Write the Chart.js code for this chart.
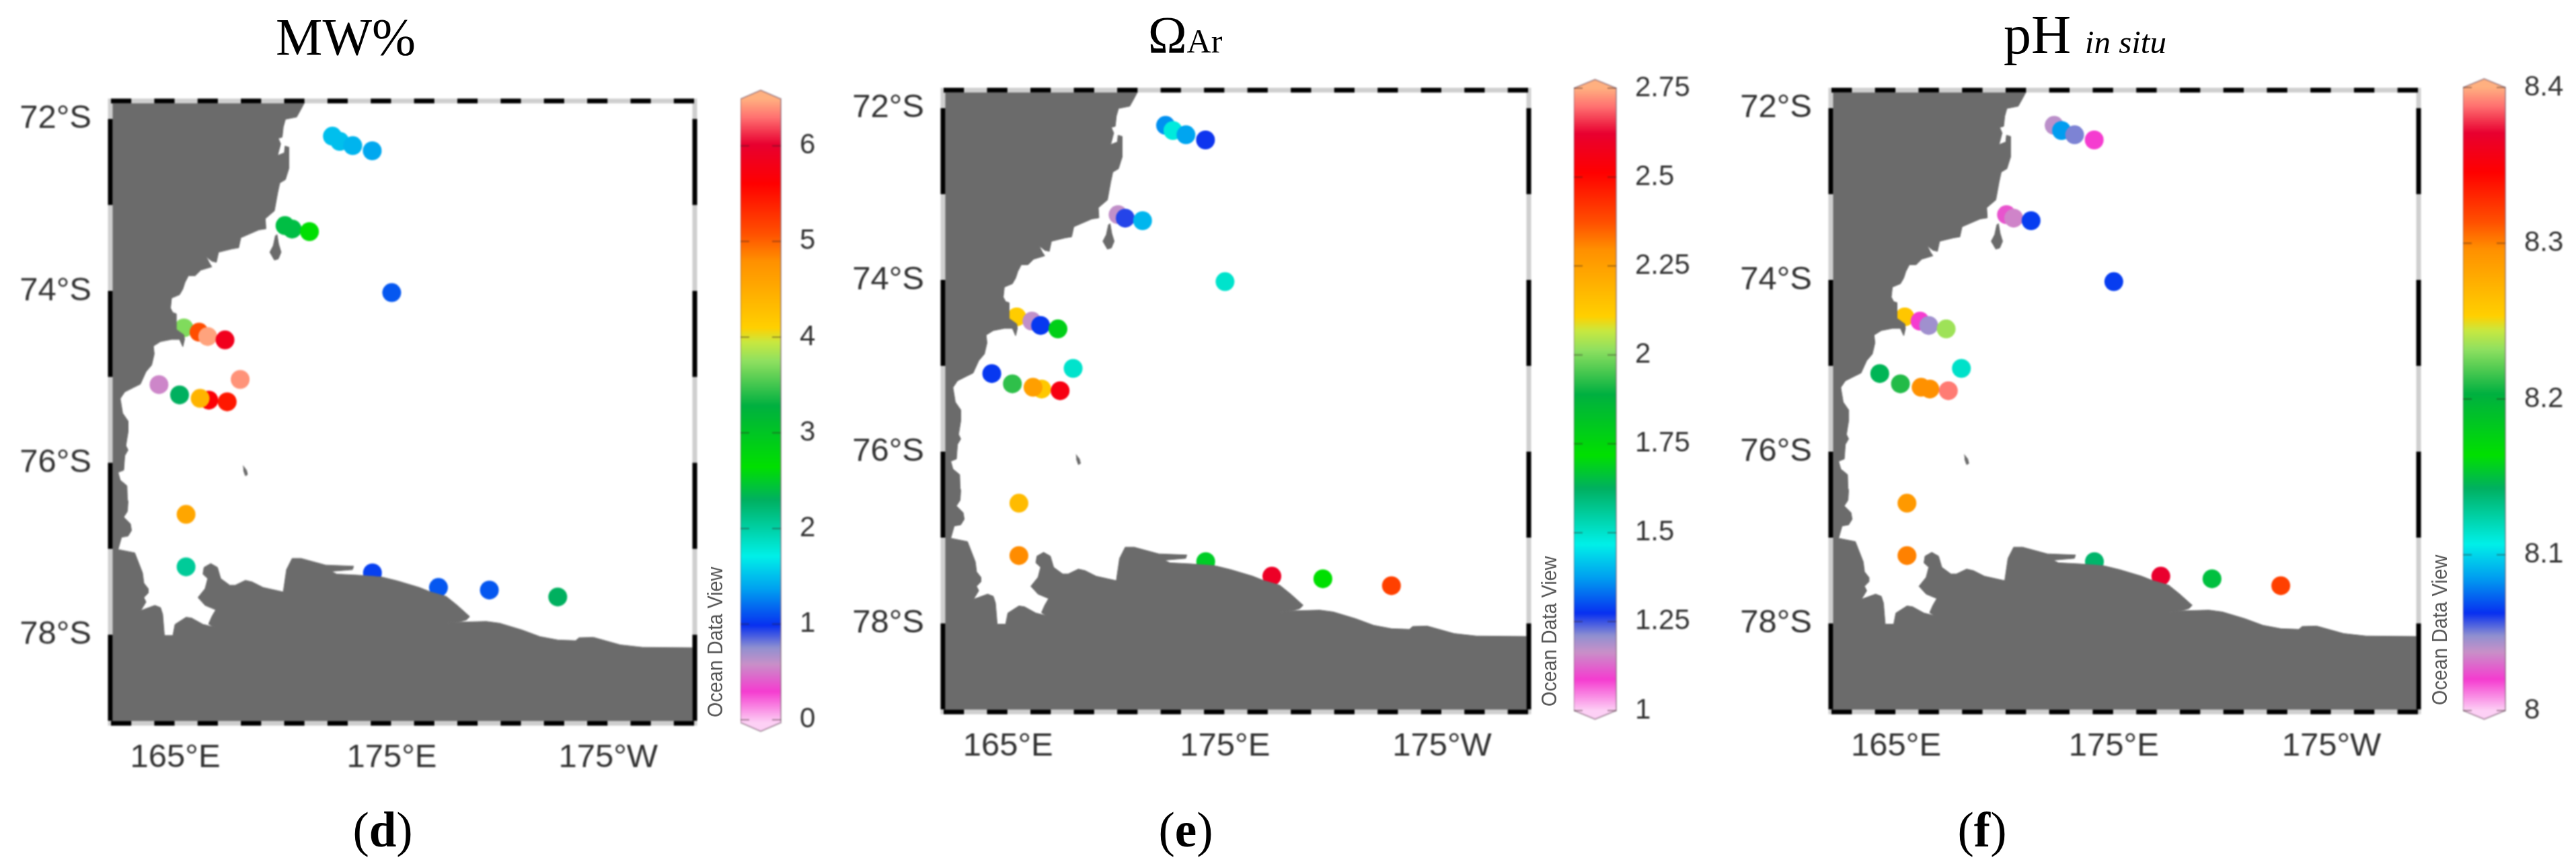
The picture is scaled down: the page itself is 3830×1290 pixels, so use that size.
<!DOCTYPE html>
<html>
<head>
<meta charset="utf-8">
<title>MW%, Omega Ar, pH in situ</title>
<script src="https://cdn.jsdelivr.net/npm/chart.js@4/dist/chart.umd.min.js"></script>
<style>
    html, body { margin: 0; padding: 0; background: #fff; width: 3830px; height: 1290px; overflow: hidden; }
    canvas { position: absolute; filter: blur(1px); }
    .serif { position: absolute; font-family: "Liberation Serif", serif; color: #000; line-height: 1; white-space: nowrap; transform: translateX(-50%); }
    .odv { position: absolute; font-family: "Liberation Sans", sans-serif; font-size: 32px; color: #555; line-height: 1; white-space: nowrap; transform-origin: left bottom; transform: rotate(-90deg) scaleX(0.9); filter: blur(0.6px); }
</style>
</head>
<body>
<script>
// stations, same cruise track on all three maps (degrees, lon past 180 = west)
const stationLon = [172.26, 172.6, 173.2, 174.1, 170.07, 170.4, 171.2, 175.0, 165.4, 166.1, 166.5, 167.3, 168.0, 164.25, 165.2, 166.55, 166.15, 167.4, 165.5, 165.5, 174.11, 177.16, 179.51, 182.67];
const stationLat = [72.2, 72.26, 72.31, 72.37, 73.24, 73.28, 73.31, 74.02, 74.43, 74.48, 74.53, 74.57, 75.03, 75.09, 75.21, 75.27, 75.25, 75.29, 76.6, 77.21, 77.28, 77.45, 77.48, 77.56];

// values
const mwValues = [1.5, 1.5, 1.45, 1.4, 2.4, 2.4, 2.66, 1.12, 3.7, 5.1, 6.45, 5.85, 6.4, 0.55, 2.3, 5.65, 4.4, 5.45, 4.55, 2.05, 1.04, 1.12, 1.12, 2.3];
const omegaValues = [1.36, 1.48, 1.38, 1.27, 1.17, 1.26, 1.4, 1.5, 2.12, 1.17, 1.28, 1.78, 1.5, 1.28, 1.93, 2.13, 2.25, 2.55, 2.17, 2.3, 1.68, 2.6, 1.72, 2.4];
const phValues = [8.04, 8.085, 8.05, 8.02, 8.025, 8.035, 8.065, 8.065, 8.26, 8.02, 8.045, 8.235, 8.115, 8.145, 8.21, 8.295, 8.295, 8.39, 8.29, 8.3, 8.14, 8.37, 8.15, 8.32];

const mwTicks = [0, 1, 2, 3, 4, 5, 6];
const omegaTicks = [1, 1.25, 1.5, 1.75, 2, 2.25, 2.5, 2.75];
const phTicks = [8, 8.1, 8.2, 8.3, 8.4];

const lonTicks = [165, 175, 185];
const lonTickLabels = ['165°E', '175°E', '175°W'];
const latTicks = [72, 74, 76, 78];
const latTickLabels = ['72°S', '74°S', '76°S', '78°S'];

// Victoria Land and the Ross Ice Shelf, traced clockwise from the top of the map
const landLon = [162, 170.97, 170.81, 170.61, 170.09, 169.99, 169.94, 169.76, 169.87, 169.73, 170.04, 170.07, 170.25, 170.25, 170.09, 169.83, 169.73, 169.58, 169.16, 169.19, 168.86, 168.03, 167.93, 167.62, 167.0, 166.9, 166.69, 166.43, 166.59, 166.69, 166.18, 165.92, 165.61, 165.45, 165.35, 165.2, 164.83, 164.78, 164.89, 165.04, 165.04, 165.4, 165.43, 165.35, 165.2, 164.83, 164.32, 163.99, 164.03, 163.91,
    163.65, 163.39, 163.08, 162.67, 162.46, 162.57, 162.82, 162.82, 162.72, 162.82, 162.67, 162.62, 162.36, 162.46, 162.77, 162.79, 162.82, 162.79, 162.62, 162.93, 162.98, 162.82, 162.52, 162.36, 163.13, 163.49, 163.55, 163.75, 163.75, 163.55, 163.65,
    163.41, 164.06, 164.32, 164.42, 164.5, 164.89, 164.99, 165.5, 165.76, 166.28, 166.77, 166.54, 166.69, 166.87, 166.38, 166.05, 166.38, 166.5, 166.28, 166.33, 166.64, 166.95, 167.1, 167.52, 167.77, 168.24, 168.55, 169.06, 169.99, 170.14, 170.4, 170.81, 171.95, 173.24, 173.19, 172.21, 172.46, 173.44, 174.53,
    175.25, 176.28, 176.8, 177.52, 178.03, 178.6, 178.45, 178.14, 177.47, 178.24, 179.37, 179.99, 181.02, 181.85, 182.67, 183.5, 183.65, 184.32, 184.94, 185.56, 186.59, 189, 189, 162, 162];
const landLat = [71.79, 71.81, 71.886, 71.977, 72.003, 72.094, 72.211, 72.224, 72.289, 72.424, 72.393, 72.315, 72.328, 72.575, 72.705, 72.744, 72.861, 73.069, 73.16, 73.277, 73.29, 73.381, 73.498, 73.511, 73.55, 73.667, 73.654, 73.602, 73.68, 73.719, 73.758, 73.823, 73.823, 73.901, 73.979, 74.044, 74.083, 74.2, 74.252, 74.265, 74.447, 74.512, 74.564, 74.65, 74.564, 74.564, 74.59, 74.642, 74.733, 74.863,
    74.94, 75.084, 75.123, 75.175, 75.253, 75.422, 75.513, 75.643, 75.799, 75.851, 75.916, 76.085, 76.111, 76.202, 76.267, 76.423, 76.449, 76.566, 76.631, 76.709, 76.787, 76.852, 76.865, 77.008, 77.047, 77.281, 77.398, 77.463, 77.515, 77.567, 77.619,
    77.718, 77.658, 77.684, 77.762, 78.009, 78.009, 77.879, 77.796, 77.806, 77.879, 77.91, 77.874, 77.788, 77.71, 77.658, 77.567, 77.463, 77.346, 77.294, 77.216, 77.172, 77.216, 77.346, 77.424, 77.424, 77.367, 77.385, 77.45, 77.502, 77.242, 77.112, 77.112, 77.19, 77.203, 77.242, 77.263, 77.294, 77.307, 77.328,
    77.372, 77.45, 77.502, 77.554, 77.658, 77.788, 77.827, 77.848, 77.866, 77.853, 77.845, 77.866, 77.944, 78.022, 78.061, 78.069, 78.035, 78.03, 78.074, 78.118, 78.147, 78.152, 79.03, 79.03, 71.79];

const coulmanLon = [169.7, 169.78, 169.89, 169.76, 169.58, 169.37, 169.53, 169.63];
const coulmanLat = [73.342, 73.459, 73.55, 73.628, 73.641, 73.55, 73.472, 73.355];
const beaufortLon = [168.13, 168.29, 168.34, 168.24, 168.15];
const beaufortLat = [76.033, 76.085, 76.137, 76.15, 76.085];

// ODV colour bar, position 0 = bottom shoulder, 1 = top shoulder
const barStopPos = [0, 0.05, 0.094, 0.12, 0.156, 0.214, 0.267, 0.357, 0.41, 0.508, 0.58, 0.61, 0.633, 0.74, 0.784, 0.864, 0.927, 0.97, 1];
const barStopColor = ['#fdd0f5', '#f53cd0', '#c890c8', '#9090d0', '#0830f0', '#00a0f0', '#00f0e8', '#00b060', '#00e000', '#00b040', '#90e060', '#c8e840', '#ffd000', '#ff9000', '#ff5000', '#ff0000', '#e80030', '#ff7070', '#ffb080'];

const LAND_COLOR = '#6b6b6b';
const LON_MIN = 162, LON_MAX = 189, LAT_MIN = 71.79, LAT_MAX = 79.03;

function hexToRgb(h) {
    return [parseInt(h.substr(1, 2), 16), parseInt(h.substr(3, 2), 16), parseInt(h.substr(5, 2), 16)];
}

function colorAt(f) {
    f = Math.max(0, Math.min(1, f));
    let i = 0;
    while (i < barStopPos.length - 2 && f > barStopPos[i + 1]) i++;
    const t = (f - barStopPos[i]) / (barStopPos[i + 1] - barStopPos[i]);
    const a = hexToRgb(barStopColor[i]), b = hexToRgb(barStopColor[i + 1]);
    return `rgb(${a.map((v, k) => Math.round(v + (b[k] - v) * t)).join(',')})`;
}

function toPoints(xs, ys) {
    return xs.map((x, i) => ({ x: x, y: ys[i] }));
}

function landDataset(xs, ys) {
    return {
        type: 'scatter', showLine: true, fill: 'shape', order: 0,
        data: toPoints(xs, ys),
        backgroundColor: LAND_COLOR, borderColor: LAND_COLOR, borderWidth: 1, pointRadius: 0, tension: 0
    };
}

// keep the plot box exactly where it is asked for, labels may hang over
function fixAxisSize(s, size) {
    if (s.isHorizontal()) s.height = size; else s.width = size;
    s.paddingTop = s.paddingBottom = s.paddingLeft = s.paddingRight = 0;
}

// black and grey map frame, one degree per dash
const framePlugin = {
    id: 'mapFrame',
    afterDatasetsDraw(chart) {
        const { ctx, scales: { x, y } } = chart;
        const a = chart.chartArea;
        ctx.save();
        ctx.lineWidth = 7;
        ctx.strokeStyle = '#cfcfcf';
        ctx.strokeRect(a.left, a.top, a.right - a.left, a.bottom - a.top);
        ctx.strokeStyle = '#000';
        ctx.beginPath();
        for (let lon = LON_MIN; lon < LON_MAX; lon += 2) {
            const x0 = x.getPixelForValue(lon) + 1, x1 = x.getPixelForValue(lon + 1) - 1;
            ctx.moveTo(x0, a.top); ctx.lineTo(x1, a.top);
            ctx.moveTo(x0, a.bottom); ctx.lineTo(x1, a.bottom);
        }
        for (let lat = 72; lat < 79; lat += 2) {
            const y0 = y.getPixelForValue(lat), y1 = Math.min(y.getPixelForValue(lat + 1), a.bottom + 3.5);
            ctx.moveTo(a.left, y0); ctx.lineTo(a.left, y1);
            ctx.moveTo(a.right, y0); ctx.lineTo(a.right, y1);
        }
        ctx.stroke();
        ctx.restore();
    }
};

// pointed ends, outline and tick nicks of the colour bar
const barPlugin = {
    id: 'barCaps',
    afterDatasetsDraw(chart, args, opts) {
        const { ctx } = chart;
        const a = chart.chartArea;
        const mid = (a.left + a.right) / 2;
        ctx.save();
        ctx.fillStyle = colorAt(1);
        ctx.beginPath();
        ctx.moveTo(a.left, a.top); ctx.lineTo(mid, a.top - opts.tip); ctx.lineTo(a.right, a.top); ctx.closePath();
        ctx.fill();
        ctx.fillStyle = colorAt(0);
        ctx.beginPath();
        ctx.moveTo(a.left, a.bottom); ctx.lineTo(mid, a.bottom + opts.tip); ctx.lineTo(a.right, a.bottom); ctx.closePath();
        ctx.fill();
        ctx.strokeStyle = 'rgba(120,90,110,0.55)';
        ctx.lineWidth = 2;
        ctx.beginPath();
        ctx.moveTo(a.left, a.bottom); ctx.lineTo(a.left, a.top); ctx.lineTo(mid, a.top - opts.tip); ctx.lineTo(a.right, a.top);
        ctx.lineTo(a.right, a.bottom); ctx.lineTo(mid, a.bottom + opts.tip); ctx.closePath();
        ctx.stroke();
        ctx.strokeStyle = 'rgba(50,30,30,0.4)';
        ctx.beginPath();
        chart.scales.y.ticks.forEach(t => {
            const py = chart.scales.y.getPixelForValue(t.value);
            ctx.moveTo(a.left, py); ctx.lineTo(a.left + 13, py);
            ctx.moveTo(a.right - 13, py); ctx.lineTo(a.right, py);
        });
        ctx.stroke();
        ctx.restore();
    }
};

function addCanvas(left, top, width, height) {
    const c = document.createElement('canvas');
    c.width = width; c.height = height;
    c.style.left = left + 'px'; c.style.top = top + 'px';
    c.style.width = width + 'px'; c.style.height = height + 'px';
    document.body.appendChild(c);
    return c;
}

function drawMap(box, values, lo, hi) {
    const AXIS_Y = 160, AXIS_X = 100, PAD = 10;
    const w = box.right - box.left, h = box.bottom - box.top;
    const canvas = addCanvas(box.left - AXIS_Y, box.top - PAD, w + AXIS_Y + PAD, h + AXIS_X + PAD);
    new Chart(canvas, {
        type: 'scatter',
        data: {
            datasets: [
                landDataset(landLon, landLat),
                landDataset(coulmanLon, coulmanLat),
                landDataset(beaufortLon, beaufortLat),
                {
                    order: 1,
                    data: toPoints(stationLon, stationLat),
                    backgroundColor: values.map(v => colorAt((v - lo) / (hi - lo))),
                    borderWidth: 0, pointRadius: 14, pointHoverRadius: 14
                }
            ]
        },
        options: {
            responsive: false, animation: false, devicePixelRatio: 1,
            layout: { padding: { top: PAD, right: PAD, left: 0, bottom: 0 } },
            plugins: { legend: { display: false }, tooltip: { enabled: false } },
            scales: {
                x: {
                    type: 'linear', min: LON_MIN, max: LON_MAX,
                    afterFit: s => fixAxisSize(s, AXIS_X),
                    afterBuildTicks: s => { s.ticks = lonTicks.map(v => ({ value: v })); },
                    grid: { display: false }, border: { display: false },
                    ticks: {
                        autoSkip: false, maxRotation: 0, padding: 14, color: '#333',
                        font: { family: 'Liberation Sans', size: 49 },
                        callback: v => lonTickLabels[lonTicks.indexOf(v)]
                    }
                },
                y: {
                    type: 'linear', reverse: true, min: LAT_MIN, max: LAT_MAX,
                    afterFit: s => fixAxisSize(s, AXIS_Y),
                    afterBuildTicks: s => { s.ticks = latTicks.map(v => ({ value: v })); },
                    grid: { display: false }, border: { display: false },
                    ticks: {
                        autoSkip: false, padding: 20, color: '#333',
                        font: { family: 'Liberation Sans', size: 49 },
                        callback: v => latTickLabels[latTicks.indexOf(v)]
                    }
                }
            }
        },
        plugins: [framePlugin]
    });
}

function drawColorBar(box, ticks, lo, hi, tip) {
    const AXIS_W = 130, PAD = 30;
    const w = box.right - box.left, h = box.bottom - box.top;
    const canvas = addCanvas(box.left, box.top - PAD, w + AXIS_W, h + PAD * 2);
    new Chart(canvas, {
        type: 'bar',
        data: {
            labels: [''],
            datasets: [{
                data: [[lo, hi]],
                barPercentage: 1, categoryPercentage: 1, borderWidth: 0,
                backgroundColor: c => {
                    const a = c.chart.chartArea;
                    if (!a) return '#fff';
                    const g = c.chart.ctx.createLinearGradient(0, a.bottom, 0, a.top);
                    barStopPos.forEach((p, i) => g.addColorStop(p, barStopColor[i]));
                    return g;
                }
            }]
        },
        options: {
            responsive: false, animation: false, devicePixelRatio: 1,
            layout: { padding: { top: PAD, bottom: PAD, left: 0, right: 0 } },
            plugins: { legend: { display: false }, tooltip: { enabled: false }, barCaps: { tip: tip } },
            scales: {
                x: { display: false },
                y: {
                    position: 'right', min: lo, max: hi,
                    afterFit: s => fixAxisSize(s, AXIS_W),
                    afterBuildTicks: s => { s.ticks = ticks.map(v => ({ value: v })); },
                    grid: { display: false }, border: { display: false },
                    ticks: {
                        autoSkip: false, padding: 20, color: '#333',
                        font: { family: 'Liberation Sans', size: 42 },
                        callback: v => String(v)
                    }
                }
            }
        },
        plugins: [barPlugin]
    });
}

function addSerif(html, centerX, top, size) {
    const d = document.createElement('div');
    d.className = 'serif';
    d.style.left = centerX + 'px'; d.style.top = top + 'px'; d.style.fontSize = size + 'px';
    d.innerHTML = html;
    document.body.appendChild(d);
}

function addOdvLabel(centerX, bottom) {
    const d = document.createElement('div');
    d.className = 'odv';
    d.textContent = 'Ocean Data View';
    // rotated about its bottom-left corner, so the text runs upward from here
    d.style.left = (centerX + 16) + 'px';
    d.style.top = (bottom - 32) + 'px';
    document.body.appendChild(d);
}

// (d) MW%
drawMap({ left: 163.5, right: 1036.5, top: 146, bottom: 1074.5 }, mwValues, -0.03, 6.49);
drawColorBar({ left: 1101, right: 1161, top: 146.6, bottom: 1074.5 }, mwTicks, -0.03, 6.49, 13);
addOdvLabel(1063, 1066);
addSerif('MW%', 514, 16, 78);
addSerif('(<b>d</b>)', 569, 1197, 73);

// (e) Omega Ar
drawMap({ left: 1402, right: 2277, top: 129.5, bottom: 1058 }, omegaValues, 1, 2.75);
drawColorBar({ left: 2340, right: 2403, top: 131, bottom: 1056 }, omegaTicks, 1, 2.75, 13);
addOdvLabel(2303, 1050);
addSerif('Ω<span style="font-size:50px">Ar</span>', 1762, 13, 78);
addSerif('(<b>e</b>)', 1763, 1197, 73);

// (f) pH in situ
drawMap({ left: 2721.5, right: 3600, top: 129.5, bottom: 1058 }, phValues, 8, 8.4);
drawColorBar({ left: 3662, right: 3725, top: 130, bottom: 1056 }, phTicks, 8, 8.4, 13);
addOdvLabel(3627, 1048);
addSerif('pH <span style="font-size:49px;font-style:italic">in situ</span>', 3100, 11, 82);
addSerif('(<b>f</b>)', 2947, 1197, 73);
</script>
</body>
</html>
